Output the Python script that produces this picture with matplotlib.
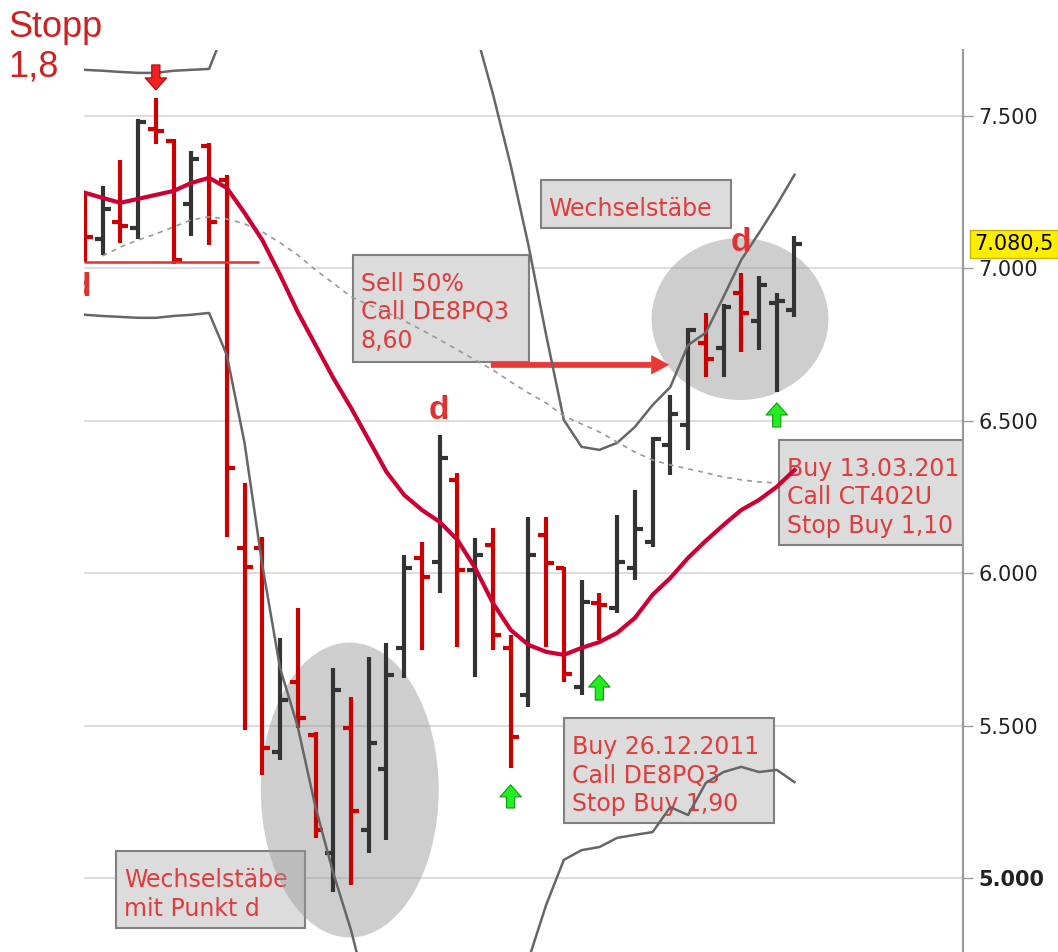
import numpy as np
import matplotlib.pyplot as plt
from matplotlib.patches import Ellipse, Rectangle

# daily OHLC bars (index points)
opens = [7225, 7097, 7152, 7133, 7457, 7418, 7211, 7402, 7290, 6084,
         6084, 5415, 5644, 5470, 5084, 5493, 5159, 5359, 5756, 6051,
         6038, 6307, 6011, 6093, 5756, 5602, 6126, 6018, 5628, 5903,
         5887, 6018, 6103, 6421, 6487, 6756, 6739, 6920, 6828, 6887,
         6864]
highs = [7248, 7270, 7356, 7490, 7559, 7425, 7385, 7411, 7307, 6297,
         6120, 5789, 5887, 5480, 5690, 5595, 5726, 5772, 6061, 6103,
         6454, 6330, 6116, 6149, 5798, 6185, 6185, 6021, 5979, 5936,
         6192, 6274, 6448, 6585, 6805, 6854, 6884, 6985, 6975, 6920,
         7107]
lows = [7021, 7044, 7084, 7097, 7408, 7015, 7107, 7077, 6120, 5487,
        5339, 5389, 5493, 5133, 4956, 4979, 5084, 5126, 5657, 5749,
        5936, 5759, 5661, 5749, 5362, 5562, 5759, 5644, 5602, 5782,
        5870, 5979, 6087, 6323, 6405, 6644, 6644, 6726, 6733, 6595,
        6841]
closes = [7103, 7195, 7139, 7480, 7451, 7028, 7359, 7152, 6346, 6021,
          5428, 5585, 5526, 5159, 5618, 5221, 5444, 5667, 6018, 5989,
          6379, 6011, 6061, 5798, 5464, 6061, 6034, 5670, 5907, 5897,
          6038, 6146, 6441, 6523, 6798, 6703, 6874, 6854, 6946, 6893,
          7080.5]

# moving average (crimson)
ma_fast = [7248, 7231, 7215, 7228, 7241, 7254, 7280, 7297, 7264, 7182,
           7093, 6979, 6857, 6749, 6641, 6543, 6438, 6333, 6257, 6208,
           6169, 6110, 6018, 5903, 5815, 5766, 5743, 5733, 5756, 5775,
           5805, 5854, 5930, 5985, 6051, 6107, 6159, 6208, 6241, 6284,
           6339]
# slow average (dashed)
ma_slow = [np.nan, 7041, 7070, 7093, 7113, 7136, 7159, 7169, 7162, 7146,
           7120, 7084, 7044, 6995, 6952, 6907, 6880, 6857, 6828, 6798,
           6766, 6733, 6700, 6667, 6628, 6592, 6559, 6516, 6490, 6464,
           6431, 6398, 6372, 6356, 6343, 6330, 6316, 6307, 6300, 6297,
           np.nan]
# bands
band_up = [7651, 7648, 7644, 7641, 7641, 7648, 7651, 7654, 7800, 7900,
           7900, 7900, 7900, 7900, 7900, 7900, 7900, 7900, 7900, 7900,
           7900, 7830, 7782, 7572, 7339, 7077, 6782, 6503, 6415, 6405,
           6428, 6480, 6552, 6611, 6749, 6789, 6907, 7028, 7116, 7208,
           7307]
band_low = [6848, 6844, 6841, 6838, 6838, 6844, 6848, 6854, 6716, 6428,
            6028, 5690, 5497, 5234, 5018, 4831, 4602, 4438, 4438, 4438,
            4438, 4438, 4438, 4438, 4536, 4733, 4913, 5061, 5093, 5103,
            5133, 5143, 5152, 5234, 5208, 5313, 5349, 5366, 5349, 5356,
            5316]

tick_vals = [5000, 5500, 6000, 6500, 7000, 7500]
tick_labels = ['5.000', '5.500', '6.000', '6.500', '7.000', '7.500']
last_price = 7080.5

red = '#cc0000'
dark = '#333333'
txt_red = '#e03c3c'

fig = plt.figure(figsize=(10.58, 9.52), dpi=100)
ax = fig.add_axes([84 / 1058, 0, 879 / 1058, 902 / 952])
ax.set_xlim(-0.05, 49.5)
ax.set_ylim(4759, 7716)

# annotation boxes (behind the lines)
boxes = [
    (25.69, 36.45, 7133, 7290, ['Wechselstäbe']),
    (15.10, 25.01, 6693, 7044, ['Sell 50%', 'Call DE8PQ3', '8,60']),
    (39.10, 50.5, 6093, 6438, ['Buy 13.03.201', 'Call CT402U', 'Stop Buy 1,10']),
    (26.99, 38.82, 5182, 5526, ['Buy 26.12.2011', 'Call DE8PQ3', 'Stop Buy 1,90']),
    (1.75, 12.39, 4838, 5090, ['Wechselstäbe', 'mit Punkt d']),
]
for x0, x1, y0, y1, lines in boxes:
    ax.add_patch(Rectangle((x0, y0), x1 - x0, y1 - y0, fc='#dcdcdc',
                           ec='#808080', lw=1.5, zorder=2))
    for k, line in enumerate(lines):
        ax.annotate(line, xy=(x0, y1), xytext=(8, -36 - 28.5 * k),
                    textcoords='offset pixels', ha='left', va='baseline',
                    fontsize=17, color=txt_red, zorder=2.5)

# ellipses
ax.add_patch(Ellipse((14.93, 5290), 10.03, 967, fc='#999999', alpha=0.48,
                     ec='none', zorder=3))
ax.add_patch(Ellipse((36.93, 6834), 9.97, 531, fc='#999999', alpha=0.48,
                     ec='none', zorder=3))

# bars
idx = np.arange(len(opens))
cols = [red if c < o else dark for o, c in zip(opens, closes)]
ax.vlines(idx, lows, highs, colors=cols, lw=3, zorder=5)
ax.hlines(opens, idx - 0.45, idx, colors=cols, lw=3, zorder=5)
ax.hlines(closes, idx, idx + 0.45, colors=cols, lw=3, zorder=5)

# lines
ax.plot(idx, band_up, color='#666666', lw=1.8, zorder=6)
ax.plot(idx, band_low, color='#666666', lw=1.8, zorder=6)
ax.plot(idx, ma_slow, color='#999999', lw=1.2, ls=(0, (3, 3)), zorder=6)
ax.plot(idx, ma_fast, color='#cc0033', lw=3, zorder=6)

# support line top left
ax.hlines(7021, -0.05, 9.8, color='#e03030', lw=1.8, zorder=5)

# d markers
for xd, yd in [(-0.23, 6939), (19.94, 6533), (36.96, 7084)]:
    ax.text(xd, yd, 'd', color='#e03030', fontsize=24, fontweight='bold',
            family='Liberation Sans', ha='center', va='center', zorder=7,
            clip_on=True)

# arrows
def block_arrow(x, y_tail, y_head, fc, ec):
    ax.annotate('', xy=(x, y_head), xytext=(x, y_tail),
                arrowprops=dict(arrowstyle='simple,head_length=0.62,head_width=1.1,tail_width=0.42',
                                fc=fc, ec=ec, lw=0.8, shrinkA=0, shrinkB=0,
                                mutation_scale=14), zorder=7)

block_arrow(4, 7667, 7585, '#ee2222', '#bb0000')
for xa, yt, yh in [(24, 5231, 5307), (29, 5585, 5667), (39, 6480, 6559)]:
    block_arrow(xa, yt, yh, '#22ee22', '#119911')

ax.annotate('', xy=(32.9, 6684), xytext=(22.9, 6684),
            arrowprops=dict(arrowstyle='simple,head_length=0.72,head_width=0.78,tail_width=0.22',
                            fc='#e83838', ec='#e83838', lw=0.5, shrinkA=0, shrinkB=0,
                            mutation_scale=17), zorder=4)

# axis styling
for s in ['left', 'top', 'bottom']:
    ax.spines[s].set_visible(False)
ax.spines['right'].set_color('#999999')
ax.spines['right'].set_linewidth(1.5)
ax.set_xticks([])
ax.yaxis.tick_right()
ax.set_yticks(tick_vals)
ax.set_yticklabels(tick_labels)
ax.tick_params(axis='y', length=7, width=1, color='#999999', pad=4,
               labelsize=15, labelcolor='#222222')
ax.get_yticklabels()[0].set_fontweight('bold')
ax.grid(axis='y', color='#dddddd', lw=1.5, zorder=0)
ax.set_axisbelow(True)

# last price tag
ax.annotate('7.080,5', xy=(1, last_price), xycoords=('axes fraction', 'data'),
            xytext=(11, 0), textcoords='offset pixels', ha='left', va='center',
            fontsize=15, color='black', annotation_clip=False, zorder=8,
            bbox=dict(boxstyle='square,pad=0.2', fc='#ffee00', ec='#c8b400', lw=1))

fig.text(8 / 1058, 1 - 10 / 952, 'Stopp\n1,8', color='#cc2222', fontsize=26,
         family='Liberation Sans', ha='left', va='top', linespacing=1.15)

fig.savefig('out.png', dpi=100)
